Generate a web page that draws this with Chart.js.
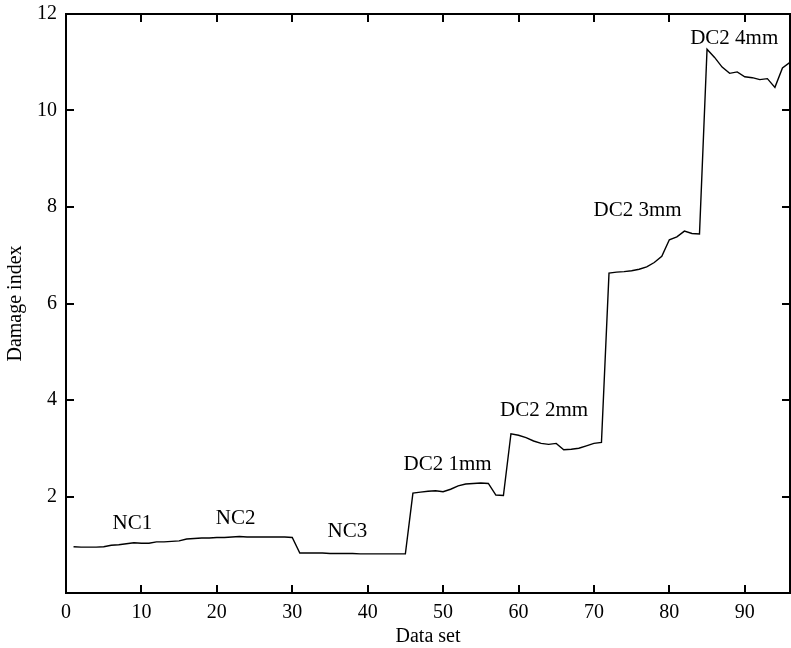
<!DOCTYPE html>
<html>
<head>
<meta charset="utf-8">
<script src="https://cdn.jsdelivr.net/npm/chart.js@4.4.1/dist/chart.umd.min.js"></script>
<style>
  html, body { margin: 0; padding: 0; background: #fff; }
  #wrap { width: 791px; height: 648px; }
</style>
</head>
<body>
<div id="wrap"><canvas id="damageChart" width="791" height="648"></canvas></div>
<script>
// data set number (x) and damage index (y)
const dataSet = [
    1, 2, 3, 4, 5, 6, 7, 8, 9, 10, 11, 12, 13, 14, 15, 16,
    17, 18, 19, 20, 21, 22, 23, 24, 25, 26, 27, 28, 29, 30, 31, 32,
    33, 34, 35, 36, 37, 38, 39, 40, 41, 42, 43, 44, 45, 46, 47, 48,
    49, 50, 51, 52, 53, 54, 55, 56, 57, 58, 59, 60, 61, 62, 63, 64,
    65, 66, 67, 68, 69, 70, 71, 72, 73, 74, 75, 76, 77, 78, 79, 80,
    81, 82, 83, 84, 85, 86, 87, 88, 89, 90, 91, 92, 93, 94, 95, 96
];
const damageIndex = [
    0.96, 0.95, 0.95, 0.95, 0.96, 0.99, 1.00, 1.02, 1.04, 1.03, 1.03, 1.06, 1.06, 1.07, 1.08, 1.12,
    1.13, 1.14, 1.14, 1.15, 1.15, 1.16, 1.17, 1.16, 1.16, 1.16, 1.16, 1.16, 1.16, 1.15, 0.83, 0.83,
    0.83, 0.83, 0.82, 0.82, 0.82, 0.82, 0.81, 0.81, 0.81, 0.81, 0.81, 0.81, 0.81, 2.07, 2.09, 2.11,
    2.12, 2.10, 2.15, 2.22, 2.26, 2.27, 2.28, 2.27, 2.03, 2.02, 3.30, 3.27, 3.22, 3.15, 3.10, 3.08,
    3.10, 2.97, 2.98, 3.00, 3.05, 3.10, 3.12, 6.63, 6.65, 6.66, 6.68, 6.71, 6.76, 6.85, 6.98, 7.32,
    7.38, 7.50, 7.45, 7.44, 11.27, 11.10, 10.90, 10.77, 10.80, 10.70, 10.68, 10.64, 10.66, 10.48, 10.88, 11.00
];

// case labels written on the plot, at data coordinates
const caseNames = ['NC1', 'NC2', 'NC3', 'DC2 1mm', 'DC2 2mm', 'DC2 3mm', 'DC2 4mm'];
const caseX = [8.8, 22.5, 37.3, 50.6, 63.4, 75.8, 88.6];
const caseY = [1.45, 1.55, 1.28, 2.67, 3.79, 7.92, 11.5];

const FONT = "'Liberation Serif', 'Times New Roman', serif";

// box around the plot, ticks pointing inward on all four sides
const frameTicks = {
    id: 'frameTicks',
    afterDatasetsDraw(chart) {
        const { ctx, chartArea: a, scales: { x, y } } = chart;
        const len = 8;
        ctx.save();
        ctx.strokeStyle = '#000';
        ctx.lineWidth = 2;
        ctx.strokeRect(a.left, a.top, a.right - a.left, a.bottom - a.top);
        ctx.beginPath();
        x.ticks.forEach(t => {
            const px = Math.round(x.getPixelForValue(t.value));
            ctx.moveTo(px, a.bottom); ctx.lineTo(px, a.bottom - len);
            ctx.moveTo(px, a.top); ctx.lineTo(px, a.top + len);
        });
        y.ticks.forEach(t => {
            const py = Math.round(y.getPixelForValue(t.value));
            ctx.moveTo(a.left, py); ctx.lineTo(a.left + len, py);
            ctx.moveTo(a.right, py); ctx.lineTo(a.right - len, py);
        });
        ctx.stroke();
        ctx.restore();
    }
};

const caseLabels = {
    id: 'caseLabels',
    afterDatasetsDraw(chart) {
        const { ctx, scales: { x, y } } = chart;
        ctx.save();
        ctx.fillStyle = '#000';
        ctx.font = '21px ' + FONT;
        ctx.textAlign = 'center';
        ctx.textBaseline = 'middle';
        caseNames.forEach((name, i) => {
            ctx.fillText(name, x.getPixelForValue(caseX[i]), y.getPixelForValue(caseY[i]));
        });
        ctx.restore();
    }
};

new Chart(document.getElementById('damageChart'), {
    type: 'line',
    data: {
        datasets: [{
            data: dataSet.map((d, i) => ({ x: d, y: damageIndex[i] })),
            borderColor: '#000',
            borderWidth: 1.4,
            pointRadius: 0,
            tension: 0,
            fill: false
        }]
    },
    options: {
        responsive: false,
        animation: false,
        layout: { padding: { top: 14, right: 1, left: 0, bottom: 0 } },
        plugins: { legend: { display: false }, tooltip: { enabled: false } },
        scales: {
            x: {
                type: 'linear',
                min: 0,
                max: 96,
                grid: { display: false, drawTicks: false },
                border: { display: false },
                ticks: {
                    stepSize: 10,
                    includeBounds: false,
                    padding: 8,
                    color: '#000',
                    maxRotation: 0,
                    font: { family: FONT, size: 20 }
                },
                title: {
                    display: true,
                    text: 'Data set',
                    color: '#000',
                    padding: { top: 0, bottom: 1 },
                    font: { family: FONT, size: 20, lineHeight: 1 }
                },
                afterFit: s => { s.height = 55; s.paddingLeft = 0; s.paddingRight = 0; }
            },
            y: {
                min: 0,
                max: 12,
                grid: { display: false, drawTicks: false },
                border: { display: false },
                ticks: {
                    stepSize: 2,
                    padding: 9,
                    color: '#000',
                    font: { family: FONT, size: 20 },
                    callback: v => (v === 0 ? '' : v)
                },
                title: {
                    display: true,
                    text: 'Damage index',
                    color: '#000',
                    padding: { top: 6, bottom: 0 },
                    font: { family: FONT, size: 20, lineHeight: 1 }
                },
                afterFit: s => { s.width = 66; s.paddingTop = 0; s.paddingBottom = 0; }
            }
        }
    },
    plugins: [frameTicks, caseLabels]
});
</script>
</body>
</html>
